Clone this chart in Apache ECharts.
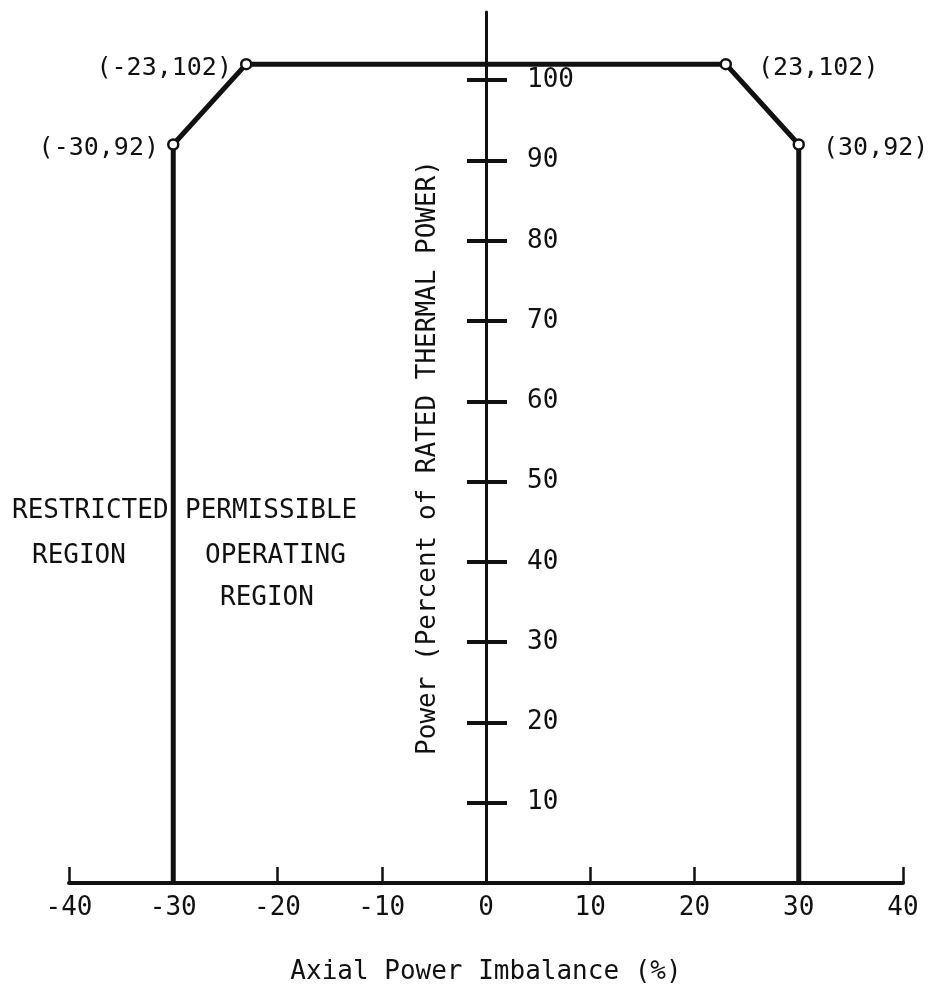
<!DOCTYPE html>
<html>
<head>
<meta charset="utf-8">
<script src="https://cdn.jsdelivr.net/npm/echarts@6/dist/echarts.min.js"></script>
<style>
  html, body { margin: 0; padding: 0; background: #fff; }
  #chart { width: 937px; height: 987px; }
</style>
</head>
<body>
<div id="chart"></div>
<script>
// Operating envelope: axial power imbalance (%) vs. power (% of rated thermal power)
const imbalance = [-30, -30, -23, 23, 30, 30];
const power = [0, 92, 102, 102, 92, 0];
// which vertices carry an open-circle marker and a coordinate label
const labelSide = [null, 'left', 'left', 'right', 'right', null];

const xTicks = [-40, -30, -20, -10, 0, 10, 20, 30, 40];
const yTicks = [10, 20, 30, 40, 50, 60, 70, 80, 90, 100];

const xAxisTitle = 'Axial Power Imbalance (%)';
const yAxisTitle = 'Power (Percent of RATED THERMAL POWER)';
const restrictedText = ['RESTRICTED', 'REGION'];
const permissibleText = ['PERMISSIBLE', 'OPERATING', 'REGION'];

const FONT = '"DejaVu Sans Mono", "Liberation Mono", monospace';
const INK = '#111';

// plot area in pixels; the power axis sits on imbalance = 0, half way across
const GRID = { left: 69, right: 34, top: 12, bottom: 104 };
const halfWidth = (937 - GRID.left - GRID.right) / 2;

const chart = echarts.init(document.getElementById('chart'), null, { renderer: 'canvas' });

const points = imbalance.map((x, i) => {
  const side = labelSide[i];
  const item = { value: [x, power[i]] };
  if (!side) {
    item.symbol = 'none';
    item.label = { show: false };
  } else {
    item.label = {
      show: true,
      position: side,
      distance: side === 'left' ? 8 : (power[i] > 100 ? 26 : 18),
      offset: [0, 4]
    };
  }
  return item;
});

const option = {
  backgroundColor: '#fff',
  animation: false,
  grid: Object.assign({ outerBoundsMode: 'none' }, GRID),
  xAxis: {
    type: 'value',
    min: -40, max: 40, interval: 10,
    name: xAxisTitle,
    nameLocation: 'middle',
    nameGap: 76,
    nameTextStyle: { fontFamily: FONT, fontSize: 26, color: INK },
    axisLine: { onZero: false, lineStyle: { color: INK, width: 4 } },
    axisTick: { show: true, inside: true, length: 16, lineStyle: { color: INK, width: 2.5 }, customValues: xTicks },
    axisLabel: { fontFamily: FONT, fontSize: 26, color: INK, margin: 12, customValues: xTicks },
    splitLine: { show: false }
  },
  yAxis: [
    {
      type: 'value',
      position: 'left',
      offset: -halfWidth,
      min: 0, max: 108.5,
      name: yAxisTitle,
      nameLocation: 'middle',
      nameGap: 45,
      nameTextStyle: { fontFamily: FONT, fontSize: 26, color: INK, padding: [0, 20, 0, 0] },
      axisLine: { show: true, onZero: false, lineStyle: { color: INK, width: 3 } },
      axisTick: { show: true, length: 19, lineStyle: { color: INK, width: 4 }, customValues: yTicks },
      axisLabel: { show: false },
      splitLine: { show: false }
    },
    {
      type: 'value',
      position: 'right',
      offset: -halfWidth,
      min: 0, max: 108.5,
      axisLine: { show: false, onZero: false },
      axisTick: { show: true, length: 21, lineStyle: { color: INK, width: 4 }, customValues: yTicks },
      axisLabel: { show: true, fontFamily: FONT, fontSize: 26, color: INK, margin: 41, customValues: yTicks },
      splitLine: { show: false }
    }
  ],
  series: [
    {
      type: 'line',
      data: points,
      yAxisIndex: 0,
      symbol: 'circle',
      symbolSize: 10,
      showAllSymbol: true,
      itemStyle: { color: '#fff', borderColor: INK, borderWidth: 2.5 },
      lineStyle: { color: INK, width: 5 },
      label: {
        fontFamily: FONT, fontSize: 25, color: INK,
        formatter: p => '(' + p.value[0] + ',' + p.value[1] + ')'
      },
      z: 3
    }
  ],
  graphic: [
    { type: 'text', left: 12, top: 498, style: { text: restrictedText[0], font: '26px ' + FONT, fill: INK } },
    { type: 'text', left: 32, top: 543, style: { text: restrictedText[1], font: '26px ' + FONT, fill: INK } },
    { type: 'text', left: 185, top: 498, style: { text: permissibleText[0], font: '26px ' + FONT, fill: INK } },
    { type: 'text', left: 205, top: 543, style: { text: permissibleText[1], font: '26px ' + FONT, fill: INK } },
    { type: 'text', left: 220, top: 585, style: { text: permissibleText[2], font: '26px ' + FONT, fill: INK } }
  ]
};

chart.setOption(option);
</script>
</body>
</html>
